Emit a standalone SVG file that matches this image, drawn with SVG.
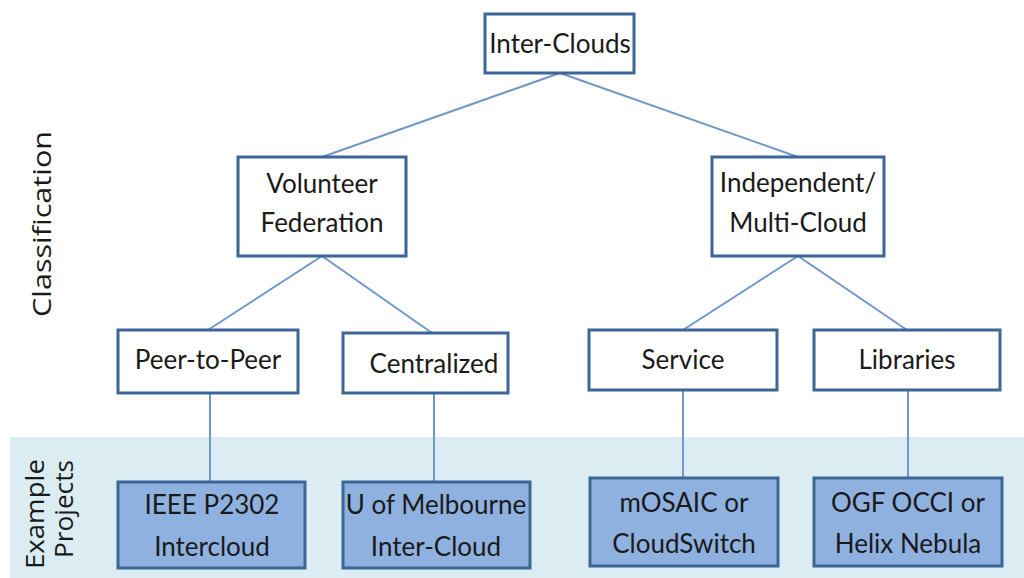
<svg xmlns="http://www.w3.org/2000/svg" width="1024" height="578" viewBox="0 0 1024 578">
<style>
.box{fill:#ffffff;stroke:#3d6597;stroke-width:3}
.proj{fill:#8eb1e0;stroke:#3d6597;stroke-width:3}
.t{font-family:Lato,"Open Sans",sans-serif;font-size:26px;fill:#1a1a1a;text-anchor:middle}
.side{font-family:"Open Sans",sans-serif;font-size:26px;fill:#1a1a1a;text-anchor:middle}
.c{stroke:#6f97c9;stroke-width:2;fill:none}
</style>
<rect x="10" y="437" width="1014" height="141" fill="#dbecf2"/>
<text class="side" transform="translate(51,224) rotate(-90)" textLength="186" lengthAdjust="spacingAndGlyphs">Classification</text>
<text class="side" transform="translate(44,514) rotate(-90)" textLength="110" lengthAdjust="spacingAndGlyphs">Example</text>
<text class="side" transform="translate(73,509) rotate(-90)" textLength="98" lengthAdjust="spacingAndGlyphs">Projects</text>
<g id="connectors">
<line class="c" x1="560" y1="73" x2="322" y2="157"/>
<line class="c" x1="560" y1="73" x2="798" y2="157"/>
<line class="c" x1="322" y1="256" x2="208" y2="330"/>
<line class="c" x1="322" y1="256" x2="432" y2="333"/>
<line class="c" x1="798" y1="256" x2="683" y2="330"/>
<line class="c" x1="798" y1="256" x2="907" y2="330"/>
<line class="c" x1="210" y1="393" x2="210" y2="482"/>
<line class="c" x1="434" y1="393" x2="434" y2="482"/>
<line class="c" x1="683" y1="390" x2="683" y2="478"/>
<line class="c" x1="908" y1="390" x2="908" y2="478"/>
</g>
<g id="n-interclouds"><rect class="box" x="485" y="14" width="149" height="59"/><text class="t" x="560" y="53">Inter-Clouds</text></g>
<g id="n-volunteer"><rect class="box" x="238" y="157" width="168" height="99"/><text class="t" x="322" y="193">Volunteer</text><text class="t" x="322" y="232">Federation</text></g>
<g id="n-independent"><rect class="box" x="712" y="157" width="172" height="99"/><text class="t" x="798" y="192">Independent/</text><text class="t" x="798" y="232">Multi-Cloud</text></g>
<g id="n-p2p"><rect class="box" x="118" y="330" width="180" height="63"/><text class="t" x="208" y="369">Peer-to-Peer</text></g>
<g id="n-central"><rect class="box" x="343" y="333" width="165" height="60"/><text class="t" x="434" y="373">Centralized</text></g>
<g id="n-service"><rect class="box" x="589" y="330" width="188" height="60"/><text class="t" x="683" y="369">Service</text></g>
<g id="n-libraries"><rect class="box" x="814" y="330" width="186" height="60"/><text class="t" x="907" y="369">Libraries</text></g>
<g id="n-ieee"><rect class="proj" x="118" y="482" width="187" height="86"/><text class="t" x="212" y="514">IEEE P2302</text><text class="t" x="212" y="556">Intercloud</text></g>
<g id="n-melb"><rect class="proj" x="343" y="482" width="187" height="86"/><text class="t" x="436" y="514">U of Melbourne</text><text class="t" x="436" y="556">Inter-Cloud</text></g>
<g id="n-mosaic"><rect class="proj" x="590" y="478" width="188" height="88"/><text class="t" x="684" y="512">mOSAIC or</text><text class="t" x="684" y="553">CloudSwitch</text></g>
<g id="n-ogf"><rect class="proj" x="814" y="478" width="188" height="88"/><text class="t" x="908" y="512">OGF OCCI or</text><text class="t" x="908" y="553">Helix Nebula</text></g>
</svg>
